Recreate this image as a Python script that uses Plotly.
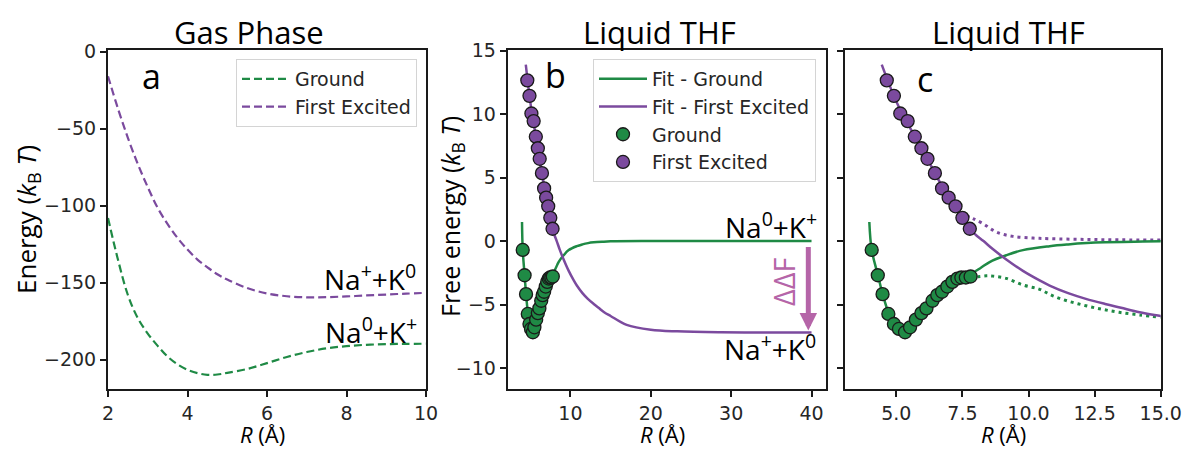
import plotly.graph_objects as go

# ---------------- data ----------------
# Panel a: gas phase energies (kBT) vs R (Å)
gas_R = [2.0, 2.25, 2.5, 2.75, 3.0, 3.25, 3.5, 3.75, 4.0, 4.25, 4.5, 4.75, 5.0, 5.5,
         6.0, 6.5, 7.0, 7.5, 8.0, 8.5, 9.0, 9.5, 10.0]
gas_ground = [-108, -135, -158, -173, -183, -191, -198, -203, -206.5, -208.7, -209.8,
              -209.6, -208.5, -206, -202.2, -198.2, -195, -192.6, -191.2, -190.3,
              -189.9, -189.7, -189.6]
gas_excited = [-16, -37, -56, -73, -88, -101.5, -112, -121, -128.5, -135, -140, -144.5,
               -148, -153.5, -157, -158.8, -159.5, -159.4, -158.9, -158.3, -157.7,
               -157.1, -156.6]

# Panels b/c: free energy points (kBT)
pts_ground_R = [4.07, 4.30, 4.48, 4.70, 4.91, 5.10, 5.33, 5.52, 5.74, 5.95, 6.14, 6.37,
                6.55, 6.73, 6.93, 7.12, 7.31, 7.46, 7.63, 7.81]
pts_ground_F = [-0.70, -2.69, -4.18, -5.74, -6.53, -6.92, -7.18, -6.79, -6.19, -5.67,
                -5.30, -4.70, -4.26, -3.99, -3.58, -3.21, -2.95, -2.87, -2.87, -2.79]
pts_exc_R = [4.64, 4.91, 5.15, 5.43, 5.70, 5.95, 6.18, 6.46, 6.73, 6.98, 7.24, 7.50, 7.78]
pts_exc_F = [12.66, 11.44, 10.05, 9.45, 8.22, 7.31, 6.48, 5.35, 4.15, 3.42, 2.74, 1.83, 0.97]

# Fits
fit_ground_R = [3.98, 4.07, 4.30, 4.48, 4.70, 4.91, 5.10, 5.30, 5.52, 5.74, 5.95, 6.2, 6.5,
                6.8, 7.1, 7.4, 7.84, 8.2, 8.53, 9.16, 9.79, 10.8, 11.5, 12.2, 12.9, 14.0,
                15.0, 20.0, 30.0, 40.0]
fit_ground_F = [1.5, -0.7, -2.65, -4.15, -5.6, -6.5, -6.95, -7.15, -6.85, -6.25, -5.7,
                -5.1, -4.4, -3.8, -3.3, -2.95, -2.56, -2.1, -1.65, -1.12, -0.71, -0.4,
                -0.26, -0.16, -0.1, -0.05, -0.02, 0, 0, 0]
fit_exc_R = [4.45, 5.0, 5.5, 6.0, 6.5, 7.0, 7.5, 7.8, 8.0, 8.3, 8.66, 9.16, 9.79, 10.42,
             10.8, 11.5, 12.17, 12.9, 13.5, 14.2, 15.0, 17.0, 20.0, 23.3, 28.7, 35.0, 40.0]
fit_exc_F = [13.9, 11.0, 9.0, 7.15, 5.2, 3.35, 1.8, 0.9, 0.5, 0.0, -0.65, -1.45, -2.35,
             -3.1, -3.5, -4.1, -4.55, -4.95, -5.25, -5.6, -5.9, -6.6, -6.98, -7.11, -7.18,
             -7.2, -7.2]

# Dotted curves (panel c)
dot_ground_R = [7.8, 8.09, 8.4, 8.66, 9.16, 9.79, 10.42, 10.92, 11.5, 12.17, 12.8, 13.43,
                14.2, 15.0]
dot_ground_F = [-2.78, -2.8, -2.74, -2.76, -2.94, -3.46, -3.8, -4.31, -4.73, -5.09, -5.38,
                -5.61, -5.82, -6.0]
dot_exc_R = [7.65, 7.9, 8.28, 8.79, 9.41, 10.17, 10.8, 12.17, 13.5, 15.0]
dot_exc_F = [2.0, 1.77, 1.37, 0.71, 0.37, 0.24, 0.19, 0.13, 0.1, 0.08]

# Ticks
a_xticks = [2, 4, 6, 8, 10]
a_yticks = [0, -50, -100, -150, -200]
a_yticklabels = ["0", "\u221250", "\u2212100", "\u2212150", "\u2212200"]
b_xticks = [10, 20, 30, 40]
bc_yticks = [15, 10, 5, 0, -5, -10]
bc_yticklabels = ["15", "10", "5", "0", "\u22125", "\u221210"]
c_xticks = [5.0, 7.5, 10.0, 12.5, 15.0]
c_xticklabels = ["5.0", "7.5", "10.0", "12.5", "15.0"]

# ---------------- style ----------------
W, H = 1182, 450
GREEN = "#1f8a45"
PURPLE = "#7b4a9e"
ARROWC = "#b565a8"
TXT = "Open Sans"
TICKF = "DejaVu Sans"


def px(x):
    return x / W


def py(y):
    return 1 - y / H


fig = go.Figure()

# Panel a
fig.add_trace(go.Scatter(x=gas_R, y=gas_ground, mode="lines", name="Ground",
                         line=dict(color=GREEN, width=2.2, dash="8px,4px", shape="spline"),
                         xaxis="x", yaxis="y", legend="legend", legendgroup="a1"))
fig.add_trace(go.Scatter(x=gas_R, y=gas_excited, mode="lines", name="First Excited",
                         line=dict(color=PURPLE, width=2.2, dash="8px,4px", shape="spline"),
                         xaxis="x", yaxis="y", legend="legend", legendgroup="a2"))

# Panel b
fig.add_trace(go.Scatter(x=fit_ground_R, y=fit_ground_F, mode="lines", name="Fit - Ground",
                         line=dict(color=GREEN, width=2.5, shape="spline", smoothing=1.0),
                         xaxis="x2", yaxis="y2", legend="legend2", legendgroup="b1"))
fig.add_trace(go.Scatter(x=fit_exc_R, y=fit_exc_F, mode="lines", name="Fit - First Excited",
                         line=dict(color=PURPLE, width=2.5, shape="spline", smoothing=1.0),
                         xaxis="x2", yaxis="y2", legend="legend2", legendgroup="b2"))
mk_line = dict(color="#1a1a1a", width=1.3)
fig.add_trace(go.Scatter(x=pts_ground_R, y=pts_ground_F, mode="markers", name="Ground",
                         marker=dict(color=GREEN, size=13, line=mk_line),
                         xaxis="x2", yaxis="y2", legend="legend2", legendgroup="b3"))
fig.add_trace(go.Scatter(x=pts_exc_R, y=pts_exc_F, mode="markers", name="First Excited",
                         marker=dict(color=PURPLE, size=13, line=mk_line),
                         xaxis="x2", yaxis="y2", legend="legend2", legendgroup="b4"))

# Panel c
fig.add_trace(go.Scatter(x=dot_ground_R, y=dot_ground_F, mode="lines", showlegend=False,
                         line=dict(color=GREEN, width=3, dash="3px,4px", shape="spline"),
                         xaxis="x3", yaxis="y3"))
fig.add_trace(go.Scatter(x=dot_exc_R, y=dot_exc_F, mode="lines", showlegend=False,
                         line=dict(color=PURPLE, width=3, dash="3px,4px", shape="spline"),
                         xaxis="x3", yaxis="y3"))
fig.add_trace(go.Scatter(x=fit_ground_R, y=fit_ground_F, mode="lines", showlegend=False,
                         line=dict(color=GREEN, width=2.5, shape="spline", smoothing=1.0),
                         xaxis="x3", yaxis="y3"))
fig.add_trace(go.Scatter(x=fit_exc_R, y=fit_exc_F, mode="lines", showlegend=False,
                         line=dict(color=PURPLE, width=2.5, shape="spline", smoothing=1.0),
                         xaxis="x3", yaxis="y3"))
fig.add_trace(go.Scatter(x=pts_ground_R, y=pts_ground_F, mode="markers", showlegend=False,
                         marker=dict(color=GREEN, size=13, line=mk_line),
                         xaxis="x3", yaxis="y3"))
fig.add_trace(go.Scatter(x=pts_exc_R, y=pts_exc_F, mode="markers", showlegend=False,
                         marker=dict(color=PURPLE, size=13, line=mk_line),
                         xaxis="x3", yaxis="y3"))

axis_common = dict(showline=True, mirror=True, linecolor="#1a1a1a", linewidth=2,
                   ticks="outside", ticklen=6, tickwidth=2, tickcolor="#1a1a1a",
                   showgrid=False, zeroline=False,
                   tickfont=dict(family=TICKF, size=19, color="#262626"))
ydom = [py(389), py(50)]

legend_common = dict(xanchor="right", yanchor="top", tracegroupgap=0, itemwidth=48,
                     bgcolor="rgba(255,255,255,0.9)", bordercolor="#d4d4d4", borderwidth=1,
                     font=dict(family=TICKF, size=19, color="#262626"))

fig.update_layout(
    width=W, height=H, autosize=False,
    margin=dict(l=0, r=0, t=0, b=0, autoexpand=False),
    paper_bgcolor="white", plot_bgcolor="white",
    xaxis=dict(domain=[px(108), px(426)], anchor="y", range=[2, 10],
               tickvals=a_xticks, **axis_common),
    yaxis=dict(domain=ydom, anchor="x", range=[-219, 1],
               tickvals=a_yticks, ticktext=a_yticklabels, **axis_common),
    xaxis2=dict(domain=[px(507.7), px(826)], anchor="y2", range=[2.2, 41.8],
                tickvals=b_xticks, **axis_common),
    yaxis2=dict(domain=ydom, anchor="x2", range=[-11.65, 15.05],
                tickvals=bc_yticks, ticktext=bc_yticklabels, **axis_common),
    xaxis3=dict(domain=[px(845), px(1160.7)], anchor="y3", range=[3.06, 15.0],
                tickvals=c_xticks, ticktext=c_xticklabels, **axis_common),
    yaxis3=dict(domain=ydom, anchor="x3", range=[-11.65, 15.05],
                tickvals=bc_yticks, showticklabels=False, **axis_common),
    legend=dict(x=px(417), y=py(59), **legend_common),
    legend2=dict(x=px(816), y=py(59), **legend_common),
    showlegend=True,
)

ann = []


def text(x, y, s, size, xanchor="center", yanchor="middle", angle=0, color="black",
         family=TXT, xref="paper", yref="paper"):
    ann.append(dict(x=x, y=y, xref=xref, yref=yref, text=s, showarrow=False,
                    xanchor=xanchor, yanchor=yanchor, textangle=angle,
                    font=dict(family=family, size=size, color=color)))


# Titles
text(px(249), py(32), "Gas Phase", 31)
text(px(659), py(32), "Liquid THF", 31)
text(px(1008), py(32), "Liquid THF", 31)
# Panel letters
text(px(152), py(76), "a", 34)
text(px(555), py(75), "b", 34)
text(px(925), py(79), "c", 34)
# Axis labels
text(px(27), py(220), "Energy (<i>k</i><sub>B</sub> <i>T</i>)", 26, angle=-90)
text(px(451), py(217), "Free energy (<i>k</i><sub>B</sub> <i>T</i>)", 25, angle=-90)
for cx in (262, 662, 1003):
    text(px(cx), py(434), "<i>R</i> (Å)", 22)
# State labels
text(px(418), py(277), "Na<sup>+</sup>+K<sup>0</sup>", 28, xanchor="right")
text(px(419), py(330), "Na<sup>0</sup>+K<sup>+</sup>", 28, xanchor="right")
text(px(819), py(225), "Na<sup>0</sup>+K<sup>+</sup>", 28, xanchor="right")
text(px(818), py(347), "Na<sup>+</sup>+K<sup>0</sup>", 28, xanchor="right")
# ΔΔF
text(px(783), py(282), "ΔΔF", 29, angle=-90, color=ARROWC)
ann.append(dict(x=39.6, y=-7.05, ax=39.6, ay=-0.35, xref="x2", yref="y2",
                axref="x2", ayref="y2", showarrow=True, arrowhead=2, arrowsize=0.7,
                arrowwidth=5, arrowcolor=ARROWC, text="", standoff=0, startstandoff=0))

fig.update_layout(annotations=ann)
fig.write_html(
    "out.html",
    config={"responsive": False, "displayModeBar": False},
    post_script="document.body.style.margin='0px';document.body.style.overflow='hidden';",
)
